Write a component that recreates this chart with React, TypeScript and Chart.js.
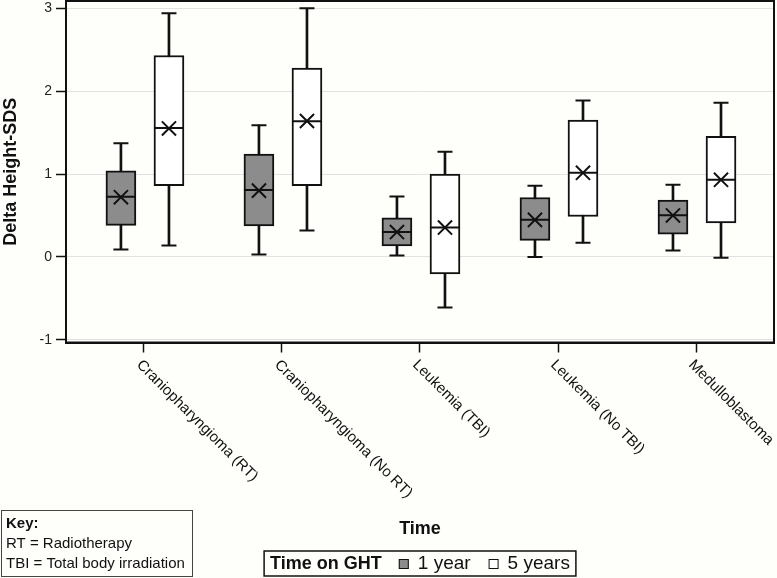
import { useEffect, useRef } from "react";
import { Chart, registerables } from "chart.js";

Chart.register(...registerables);

// ---- data ----
const categories = [
  "Craniopharyngioma (RT)",
  "Craniopharyngioma (No RT)",
  "Leukemia (TBI)",
  "Leukemia (No TBI)",
  "Medulloblastoma",
];
const seriesNames = ["1 year", "5 years"];
const legendTitle = "Time on GHT";
const xTitle = "Time";
const yTitle = "Delta Height-SDS";
const yTicks = [-1, 0, 1, 2, 3];
const keyTitle = "Key:";
const keyLines = ["RT = Radiotherapy", "TBI = Total body irradiation"];

const year1Min = [0.09, 0.03, 0.016, 0.0, 0.076];
const year1Q1 = [0.38, 0.375, 0.133, 0.2, 0.274];
const year1Median = [0.725, 0.806, 0.3, 0.447, 0.504];
const year1Q3 = [1.04, 1.24, 0.47, 0.717, 0.685];
const year1Max = [1.37, 1.59, 0.73, 0.86, 0.87];
const year1Mean = [0.72, 0.8, 0.3, 0.447, 0.5];

const year5Min = [0.137, 0.32, -0.61, 0.17, -0.01];
const year5Q1 = [0.86, 0.86, -0.206, 0.487, 0.41];
const year5Median = [1.556, 1.636, 0.354, 1.015, 0.93];
const year5Q3 = [2.43, 2.28, 1.0, 1.65, 1.455];
const year5Max = [2.94, 3.0, 1.27, 1.886, 1.86];
const year5Mean = [1.55, 1.64, 0.354, 1.015, 0.93];

// ---- styles ----
const FONT = '"Liberation Sans", Arial, sans-serif';
const GRAY = "#8c8c8c";
const WHITE = "#ffffff";
const INK = "#111111";
const OFFSETS = [-0.167, 0.181];

export default function App() {
  const ref = useRef<HTMLCanvasElement>(null);

  useEffect(() => {
    const canvas = ref.current;
    if (!canvas) return;

    const groups = [
      { off: OFFSETS[0], min: year1Min, q1: year1Q1, med: year1Median, q3: year1Q3, max: year1Max, mean: year1Mean, fill: GRAY },
      { off: OFFSETS[1], min: year5Min, q1: year5Q1, med: year5Median, q3: year5Q3, max: year5Max, mean: year5Mean, fill: WHITE },
    ];

    const datasets: any[] = [];
    groups.forEach((g, gi) => {
      const xs = categories.map((_, i) => i + g.off);
      datasets.push({
        type: "bar",
        label: seriesNames[gi] + " whisker",
        data: xs.map((x, i) => ({ x, y: [g.min[i], g.max[i]] })),
        backgroundColor: INK,
        borderWidth: 0,
        grouped: false,
        barPercentage: 1,
        categoryPercentage: 1,
        maxBarThickness: 2,
        order: 6,
      });
      datasets.push({
        type: "bar",
        label: seriesNames[gi],
        data: xs.map((x, i) => ({ x, y: [g.q1[i], g.q3[i]] })),
        backgroundColor: g.fill,
        borderColor: INK,
        borderWidth: 2,
        borderSkipped: false,
        grouped: false,
        barPercentage: 1,
        categoryPercentage: 1,
        maxBarThickness: 30,
        order: 5,
      });
      datasets.push({
        type: "scatter",
        label: seriesNames[gi] + " caps",
        data: [
          ...xs.map((x, i) => ({ x, y: g.min[i] })),
          ...xs.map((x, i) => ({ x, y: g.max[i] })),
        ],
        pointStyle: "line",
        pointRadius: 7.5,
        pointBorderWidth: 2,
        pointBorderColor: INK,
        order: 4,
      });
      datasets.push({
        type: "scatter",
        label: seriesNames[gi] + " median",
        data: xs.map((x, i) => ({ x, y: g.med[i] })),
        pointStyle: "line",
        pointRadius: 15,
        pointBorderWidth: 2,
        pointBorderColor: INK,
        order: 3,
      });
      datasets.push({
        type: "scatter",
        label: seriesNames[gi] + " mean",
        data: xs.map((x, i) => ({ x, y: g.mean[i] })),
        pointStyle: "crossRot",
        pointRadius: 10,
        pointBorderWidth: 2,
        pointBorderColor: INK,
        order: 2,
      });
    });

    const decor = {
      id: "decor",
      beforeDraw(chart: any) {
        const { ctx, width, height } = chart;
        ctx.save();
        ctx.fillStyle = "#fefefb";
        ctx.fillRect(0, 0, width, height);
        ctx.restore();
      },
      afterDraw(chart: any) {
        const { ctx, chartArea } = chart;
        const xs = chart.scales.x;
        ctx.save();
        // frame
        ctx.strokeStyle = INK;
        ctx.lineWidth = 2;
        ctx.strokeRect(chartArea.left, chartArea.top, chartArea.right - chartArea.left, chartArea.bottom - chartArea.top);

        // rotated category labels
        ctx.fillStyle = INK;
        ctx.font = `15px ${FONT}`;
        ctx.textAlign = "left";
        ctx.textBaseline = "alphabetic";
        categories.forEach((c, i) => {
          const px = xs.getPixelForValue(i);
          ctx.save();
          ctx.translate(px - 8, chartArea.bottom + 23);
          ctx.rotate(Math.PI / 4);
          ctx.fillText(c, 0, 0);
          ctx.restore();
        });

        const cx = (chartArea.left + chartArea.right) / 2;
        // x title
        ctx.font = `bold 18px ${FONT}`;
        ctx.textAlign = "center";
        ctx.textBaseline = "middle";
        ctx.fillText(xTitle, cx, 529);

        // legend
        ctx.textAlign = "left";
        ctx.font = `bold 18px ${FONT}`;
        const tW = ctx.measureText(legendTitle).width;
        ctx.font = `19px ${FONT}`;
        const lW = seriesNames.map((s) => ctx.measureText(s).width);
        const pad = 6, gapT = 17, sq = 10, gapS = 9, gapE = 18;
        const total = pad + tW + gapT + sq + gapS + lW[0] + gapE + sq + gapS + lW[1] + pad;
        const lx = cx - total / 2;
        const ly = 551, lh = 25, lmid = ly + lh / 2 + 0.5;
        ctx.lineWidth = 1.5;
        ctx.strokeStyle = INK;
        ctx.strokeRect(lx, ly, total, lh);
        ctx.font = `bold 18px ${FONT}`;
        ctx.fillText(legendTitle, lx + pad, lmid);
        let x = lx + pad + tW + gapT;
        ctx.font = `19px ${FONT}`;
        [GRAY, WHITE].forEach((col, i) => {
          ctx.fillStyle = col;
          ctx.fillRect(x, lmid - sq / 2, sq, sq);
          ctx.lineWidth = 1;
          ctx.strokeRect(x + 0.5, lmid - sq / 2 + 0.5, sq - 1, sq - 1);
          ctx.fillStyle = INK;
          ctx.fillText(seriesNames[i], x + sq + gapS, lmid);
          x += sq + gapS + lW[i] + gapE;
        });

        // key box
        ctx.lineWidth = 1;
        ctx.strokeStyle = "#444";
        ctx.strokeRect(1.5, 510.5, 191, 66);
        ctx.fillStyle = INK;
        ctx.font = `bold 15px ${FONT}`;
        ctx.fillText(keyTitle, 6, 524);
        ctx.font = `15px ${FONT}`;
        keyLines.forEach((t, i) => ctx.fillText(t, 6, 544 + i * 20));
        ctx.restore();
      },
    };

    const chart = new Chart(canvas, {
      type: "bar",
      data: { datasets },
      options: {
        responsive: false,
        animation: false,
        devicePixelRatio: 1,
        layout: { autoPadding: false, padding: { top: 1, right: 3, left: 0, bottom: 0 } },
        plugins: { legend: { display: false }, tooltip: { enabled: false } },
        scales: {
          x: {
            type: "linear",
            min: -0.565,
            max: 4.565,
            offset: false,
            afterBuildTicks: (s: any) => {
              s.ticks = categories.map((_, i) => ({ value: i }));
            },
            afterFit: (s: any) => {
              s.height = 235.5;
              s.paddingLeft = 0;
              s.paddingRight = 0;
              s.paddingTop = 0;
              s.paddingBottom = 0;
            },
            grid: { drawOnChartArea: false, offset: false, tickColor: INK, tickLength: 10, tickWidth: 1.5 },
            border: { display: true, color: INK, width: 2 },
            ticks: { display: false },
          },
          y: {
            type: "linear",
            min: -1.033,
            max: 3.088,
            afterBuildTicks: (s: any) => {
              s.ticks = yTicks.map((v) => ({ value: v }));
            },
            afterFit: (s: any) => {
              s.width = 66;
              s.paddingLeft = 0;
              s.paddingRight = 0;
              s.paddingTop = 0;
              s.paddingBottom = 0;
            },
            grid: { color: "#e2e2e2", lineWidth: 1, tickColor: INK, tickLength: 10, tickWidth: 1.5 },
            border: { display: true, color: INK, width: 2 },
            ticks: { color: "#222", font: { family: FONT, size: 14 }, padding: 4 },
            title: {
              display: true,
              text: yTitle,
              color: INK,
              font: { family: FONT, size: 18, weight: "bold" },
              padding: 0,
            },
          },
        },
      } as any,
      plugins: [decor],
    });

    return () => chart.destroy();
  }, []);

  return (
    <div style={{ position: "fixed", left: 0, top: 0, width: 777, height: 578 }}>
      <canvas ref={ref} width={777} height={578} />
    </div>
  );
}
